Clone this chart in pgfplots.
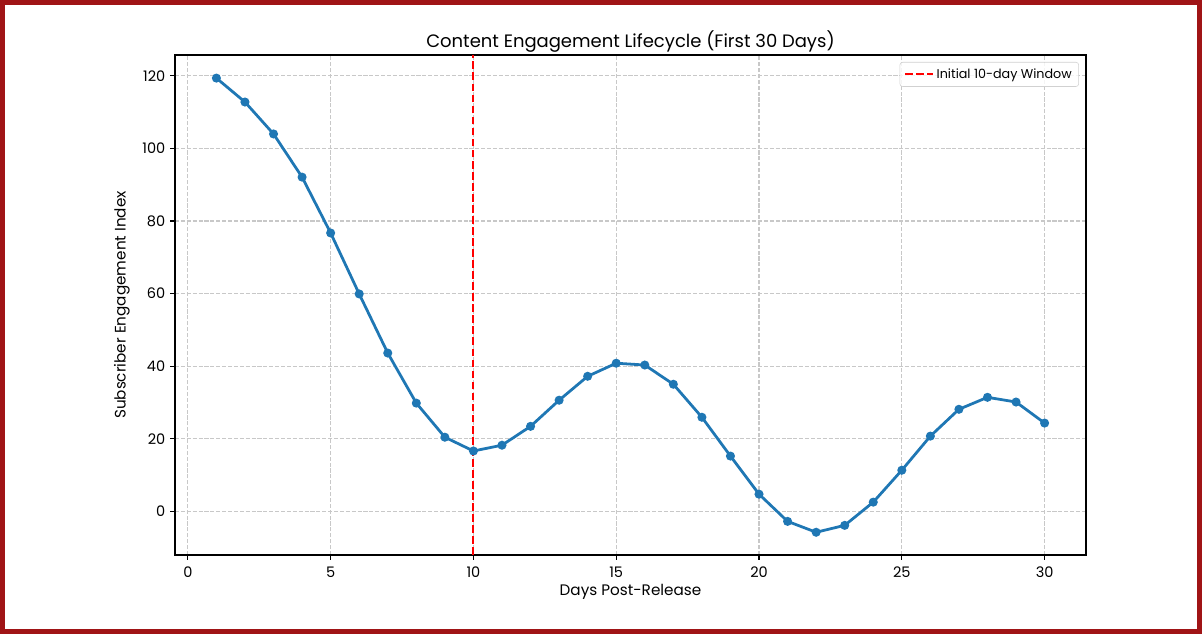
\documentclass[border=0pt]{standalone}
\usepackage{pgfplots}
\pgfplotsset{compat=1.18}
\usepackage{fontspec}
\setmainfont{Poppins}
\definecolor{mplblue}{HTML}{1F77B4}
\definecolor{framered}{RGB}{160,20,22}
\definecolor{gridgray}{HTML}{C8C8C8}

\pgfplotstableread{
day value
1 119.4
2 112.8
3 104.0
4 92.1
5 76.7
6 59.9
7 43.6
8 29.8
9 20.4
10 16.6
11 18.2
12 23.4
13 30.6
14 37.2
15 40.8
16 40.3
17 35.0
18 25.9
19 15.2
20 4.7
21 -2.8
22 -5.8
23 -3.9
24 2.5
25 11.3
26 20.7
27 28.1
28 31.4
29 30.1
30 24.3
}\engagement

\begin{document}
\begin{tikzpicture}[x=0.72bp,y=0.72bp]
\useasboundingbox (0,0) rectangle (1202,634);
\begin{axis}[
  at={(175*0.72bp,79*0.72bp)}, anchor=south west,
  scale only axis,
  width=911*0.72bp, height=500*0.72bp,
  xmin=-0.45, xmax=31.45,
  ymin=-12.07, ymax=125.77,
  xtick={0,5,...,30},
  ytick={0,20,...,120},
  tick align=outside,
  major tick length=3.5bp,
  tick style={black, line width=0.8bp},
  axis line style={black, line width=0.8bp},
  xtick pos=bottom, ytick pos=left,
  grid=major,
  major grid style={gridgray, dash pattern=on 2.96bp off 1.28bp, line width=0.8bp},
  tick label style={font=\fontsize{10.5}{12}\selectfont},
  /pgf/number format/assume math mode=true,
  xticklabel style={yshift=-1.5bp},
  title={Content Engagement Lifecycle (First 30 Days)},
  title style={font=\fontsize{13}{15}\selectfont, at={(axis description cs:0.5,1.015)}, anchor=base, yshift=-6pt},
  xlabel={Days Post-Release},
  ylabel={Subscriber Engagement Index},
  label style={font=\fontsize{11}{13}\selectfont},
  xlabel style={at={(axis description cs:0.5,-0.074)}, anchor=center},
  ylabel style={at={(axis description cs:-0.0582,0.5)}, anchor=center},
  legend style={at={(axis description cs:0.9923,0.986)}, anchor=north east,
    draw=black!18, rounded corners=2bp, fill=white, fill opacity=0.8, text opacity=1,
    font=\fontsize{9.2}{11}\selectfont, inner xsep=3bp, inner ysep=2.5bp,
    row sep=0bp},
  legend cell align=left,
  legend image code/.code={\draw[#1] (0bp,0bp) -- (20bp,0bp);},
]
\addplot[mplblue, line width=2bp, mark=*, mark size=2.2bp, mark options={solid, fill=mplblue, draw=mplblue}, forget plot]
  table[x=day, y=value] {\engagement};
\addplot[red, line width=1.5bp, dash pattern=on 5.55bp off 2.4bp]
  coordinates {(10,-12.07) (10,125.77)};
\addlegendentry{Initial 10-day Window}
\end{axis}
\draw[framered, line width=5*0.72bp] (2.5,2.5) rectangle (1199.5,631.5);
\end{tikzpicture}
\end{document}
